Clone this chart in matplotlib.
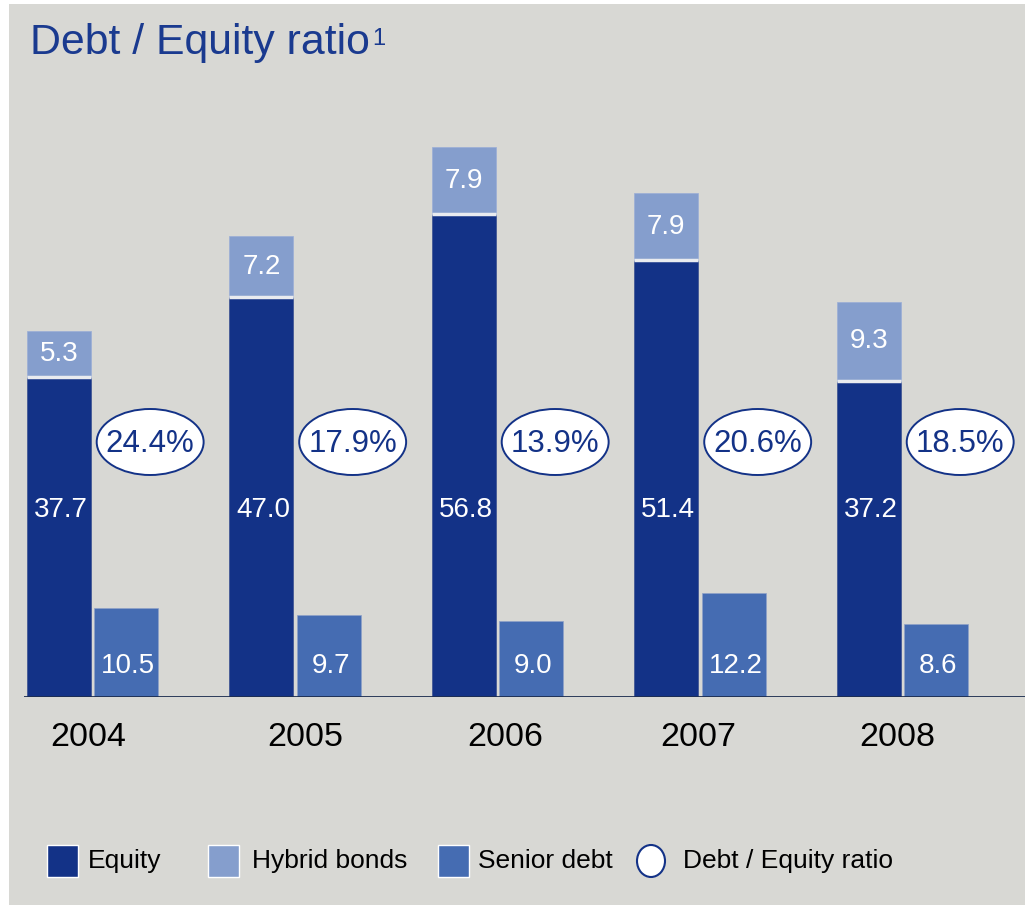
import matplotlib.pyplot as plt
from matplotlib.patches import Ellipse, Rectangle
import numpy as np

plt.rcParams['font.family'] = ['Liberation Sans', 'DejaVu Sans']

years = ['2004', '2005', '2006', '2007', '2008']
equity = [37.7, 47.0, 56.8, 51.4, 37.2]
hybrid = [5.3, 7.2, 7.9, 7.9, 9.3]
senior = [10.5, 9.7, 9.0, 12.2, 8.6]
ratio = ['24.4%', '17.9%', '13.9%', '20.6%', '18.5%']

c_eq = '#133287'
c_hy = '#859ecd'
c_se = '#456cb2'
c_bg = '#d8d8d4'
c_title = '#1a3a8f'

W, H = 1025, 905
PX = 8.5  # pixels per data unit
fig = plt.figure(figsize=(W / 100, H / 100), dpi=100, facecolor='white')
# grey panel with thin white margin on the left and top
fig.patches.append(Rectangle((9 / W, 0), 1 - 9 / W, 1 - 4 / H, transform=fig.transFigure,
                             facecolor=c_bg, edgecolor='none', zorder=-5))

ax = fig.add_axes([24 / W, (H - 697) / H, 1001 / W, 597 / H])
ax.set_zorder(1)
ax.set_facecolor('none')
for s in ax.spines.values():
    s.set_visible(False)

x = np.arange(len(years))
w = 0.316
off = 0.166
ax.bar(x - off, equity, w, color=c_eq, edgecolor='#3a4f8f', linewidth=0.5, zorder=2)
ax.bar(x - off, hybrid, w, bottom=equity, color=c_hy, edgecolor='#9aaed6', linewidth=0.5, zorder=2)
# thin light gap between equity and hybrid part
ax.hlines(equity, x - off - w / 2, x - off + w / 2, colors='#e9ebef', lw=2.5, zorder=3)
ax.bar(x + off, senior, w, color=c_se, edgecolor='#8ea2c8', linewidth=0.5, zorder=2)

ax.set_xlim(-0.338, 4.605)
ax.set_ylim(0, 597 / PX)
ax.set_xticks([])
ax.set_yticks([])
ax.axhline(0, color='#1c2d4f', lw=2.0, zorder=3)

year_nudge = [-4, 10, 8, -2, -5]
txt = dict(color='white', fontsize=20, ha='center', va='center', zorder=4)
for i in range(len(years)):
    ax.text(x[i] - off + 0.01, 187 / PX, f'{equity[i]:.1f}', **txt)
    ax.text(x[i] - off, equity[i] + hybrid[i] / 2, f'{hybrid[i]:.1f}', **txt)
    ax.text(x[i] + off + 0.01, 31 / PX, f'{senior[i]:.1f}', **txt)
    ax.add_patch(Ellipse((x[i] + 0.285, 255 / PX), 0.528, 66 / PX, facecolor='white',
                         edgecolor=c_eq, linewidth=1.4, zorder=3))
    ax.text(x[i] + 0.285, 253 / PX, ratio[i], color=c_eq, fontsize=22.5, ha='center',
            va='center', zorder=4)
    ax.text(x[i] + year_nudge[i] / 202.5, -40 / PX, years[i], color='black', fontsize=24.5,
            ha='center', va='center', clip_on=False)

# title
fig.text(30 / W, 1 - 43 / H, 'Debt / Equity ratio', color=c_title, fontsize=30.8,
         ha='left', va='center')
fig.text(372 / W, 1 - 39 / H, '1', color=c_title, fontsize=17, ha='left', va='center')

# legend
legend_items = [('Equity', c_eq, 47, 88), ('Hybrid bonds', c_hy, 208, 252),
                ('Senior debt', c_se, 438, 478)]
ly = 861
for label, col, px, tx in legend_items:
    fig.patches.append(Rectangle((px / W, 1 - (ly + 16) / H), 31 / W, 32 / H,
                                 transform=fig.transFigure, facecolor=col,
                                 edgecolor='white', linewidth=1.0, zorder=2))
    fig.text(tx / W, 1 - ly / H, label, fontsize=19, ha='left', va='center')
fig.patches.append(Ellipse((651 / W, 1 - ly / H), 28 / W, 32 / H, transform=fig.transFigure,
                           facecolor='white', edgecolor=c_eq, linewidth=1.5, zorder=2))
fig.text(683 / W, 1 - ly / H, 'Debt / Equity ratio', fontsize=19, ha='left', va='center')

fig.savefig('out.png', dpi=100, facecolor='white')
